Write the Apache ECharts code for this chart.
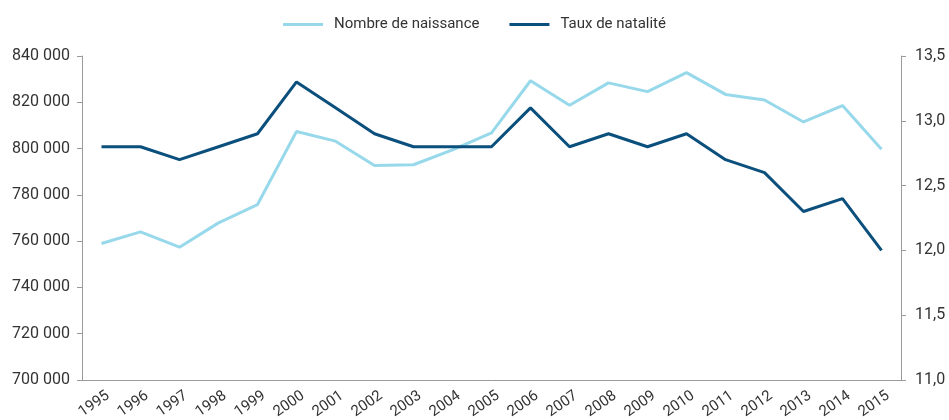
<!DOCTYPE html>
<html>
<head>
<meta charset="utf-8">
<script src="https://cdn.jsdelivr.net/npm/echarts@6/dist/echarts.min.js"></script>
<style>
    html, body { margin: 0; padding: 0; background: #fff; }
    #chart { width: 949px; height: 420px; }
</style>
</head>
<body>
<div id="chart"></div>
<script>
    var fontFamily = 'Roboto, Liberation Sans, sans-serif';

    var years = ['1995', '1996', '1997', '1998', '1999', '2000', '2001', '2002', '2003', '2004', '2005',
        '2006', '2007', '2008', '2009', '2010', '2011', '2012', '2013', '2014', '2015'];

    // nombre de naissances (axe de gauche)
    var naissances = [759000, 764000, 757400, 767900, 775800, 807400, 803200, 792700, 793000, 799400, 806800,
        829300, 818700, 828400, 824600, 832800, 823400, 821000, 811500, 818600, 799700];

    // taux de natalité (axe de droite)
    var natalite = [12.8, 12.8, 12.7, 12.8, 12.9, 13.3, 13.1, 12.9, 12.8, 12.8, 12.8,
        13.1, 12.8, 12.9, 12.8, 12.9, 12.7, 12.6, 12.3, 12.4, 12.0];

    var chart = echarts.init(document.getElementById('chart'));

    var axisGray = '#9a9a9a';
    var textGray = '#333333';

    var option = {
        backgroundColor: '#fff',
        animation: false,
        textStyle: { fontFamily: fontFamily },
        legend: {
            top: 12,
            left: 'center',
            itemWidth: 40,
            itemHeight: 3,
            itemGap: 30,
            icon: 'rect',
            textStyle: { color: textGray, fontSize: 15, fontFamily: fontFamily, padding: [0, 0, 0, 6] },
            data: ['Nombre de naissance', 'Taux de natalité']
        },
        grid: { left: 82, right: 48, top: 56, bottom: 40, outerBoundsMode: 'none', containLabel: false },
        xAxis: {
            type: 'category',
            data: years,
            boundaryGap: true,
            axisLine: { lineStyle: { color: axisGray } },
            axisTick: { length: 5, lineStyle: { color: axisGray } },
            axisLabel: {
                rotate: 35,
                margin: 19,
                padding: [0, -8, 0, 0],
                color: textGray,
                fontSize: 15,
                fontFamily: fontFamily,
                interval: 0
            }
        },
        yAxis: [{
            type: 'value',
            min: 700000,
            max: 840000,
            interval: 20000,
            splitLine: { show: false },
            axisLine: { show: true, lineStyle: { color: axisGray } },
            axisTick: { show: true, length: 5, lineStyle: { color: axisGray } },
            axisLabel: {
                margin: 12,
                color: textGray,
                fontSize: 16,
                fontFamily: fontFamily,
                formatter: function (v) { return String(v).replace(/\B(?=(\d{3})+(?!\d))/g, ' '); }
            }
        }, {
            type: 'value',
            min: 11,
            max: 13.5,
            interval: 0.5,
            splitLine: { show: false },
            axisLine: { show: true, lineStyle: { color: axisGray } },
            axisTick: { show: true, length: 5, lineStyle: { color: axisGray } },
            axisLabel: {
                margin: 14,
                color: textGray,
                fontSize: 16,
                fontFamily: fontFamily,
                formatter: function (v) { return v.toFixed(1).replace('.', ','); }
            }
        }],
        series: [{
            name: 'Nombre de naissance',
            type: 'line',
            yAxisIndex: 0,
            data: naissances,
            symbol: 'none',
            color: '#97d9ea',
            lineStyle: { width: 3, color: '#97d9ea' }
        }, {
            name: 'Taux de natalité',
            type: 'line',
            yAxisIndex: 1,
            data: natalite,
            symbol: 'none',
            color: '#0b4f7d',
            lineStyle: { width: 3, color: '#0b4f7d' }
        }]
    };

    chart.setOption(option);
</script>
</body>
</html>
